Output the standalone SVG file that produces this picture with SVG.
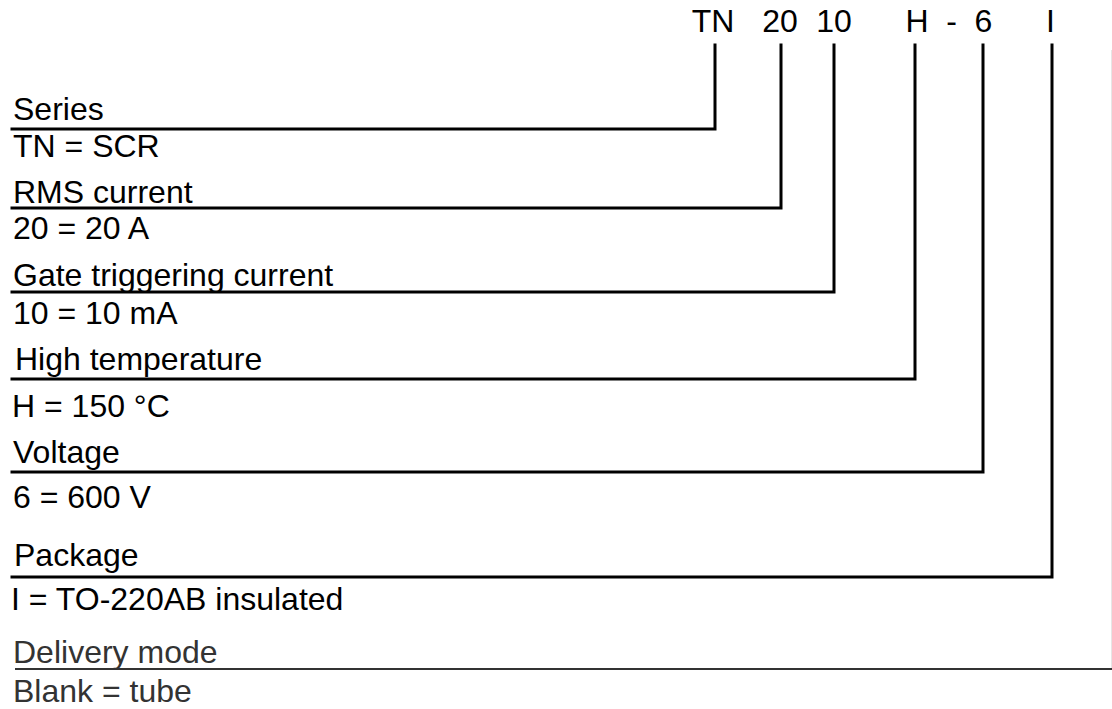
<svg xmlns="http://www.w3.org/2000/svg" width="1112" height="709" viewBox="0 0 1112 709">
  <style>
    text { font-family: "Liberation Sans", Arial, sans-serif; font-size: 32px; fill: #000; }
    .hdr { text-anchor: middle; }
    .dm { fill: #333; }
    .conn { fill: none; stroke: #000; stroke-width: 3; stroke-linejoin: miter; stroke-linecap: square; }
  </style>
  <rect width="1112" height="709" fill="#fff"/>
  <g id="code">
    <text class="hdr" x="713" y="32">TN</text>
    <text class="hdr" x="780" y="32">20</text>
    <text class="hdr" x="834" y="32">10</text>
    <text class="hdr" x="917" y="32">H</text>
    <text class="hdr" x="951.5" y="32">-</text>
    <text class="hdr" x="983.5" y="32">6</text>
    <text class="hdr" x="1050.5" y="32">I</text>
  </g>
  <g id="connectors">
    <polyline class="conn" points="12,129 715,129 715,45"/>
    <polyline class="conn" points="12,208 781,208 781,45"/>
    <polyline class="conn" points="12,292 834,292 834,45"/>
    <polyline class="conn" points="12,379 915,379 915,45"/>
    <polyline class="conn" points="12,472 983,472 983,45"/>
    <polyline class="conn" points="12,577 1052,577 1052,45"/>
    <line x1="1111.5" y1="50" x2="1111.5" y2="669" stroke="#e6e6e6" stroke-width="1"/>
    <line x1="15" y1="669" x2="1112" y2="669" stroke="#333" stroke-width="2"/>
  </g>
  <g id="series">
    <text x="13" y="120">Series</text>
    <text x="13" y="157">TN = SCR</text>
  </g>
  <g id="rms-current">
    <text x="13" y="203">RMS current</text>
    <text x="13" y="239">20 = 20 A</text>
  </g>
  <g id="gate-current">
    <text x="13" y="286">Gate triggering current</text>
    <text x="13" y="324">10 = 10 mA</text>
  </g>
  <g id="high-temperature">
    <text x="15" y="370">High temperature</text>
    <text x="12" y="417">H = 150 °C</text>
  </g>
  <g id="voltage">
    <text x="13" y="463">Voltage</text>
    <text x="13" y="508">6 = 600 V</text>
  </g>
  <g id="package">
    <text x="14" y="566">Package</text>
    <text x="11" y="610">I = TO-220AB insulated</text>
  </g>
  <g id="delivery-mode">
    <text class="dm" x="13" y="663">Delivery mode</text>
    <text class="dm" x="13" y="702">Blank = tube</text>
  </g>
</svg>
